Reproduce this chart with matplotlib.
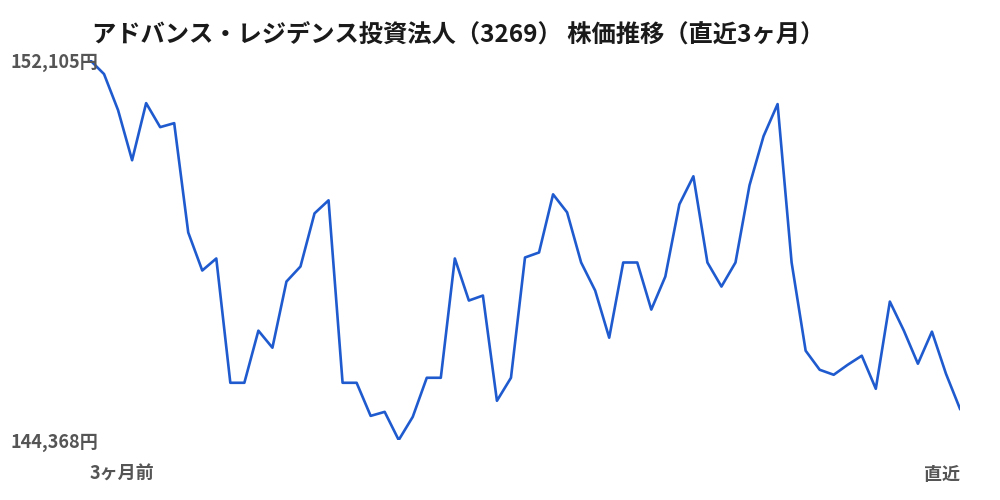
import matplotlib
matplotlib.use('Agg')
import matplotlib.pyplot as plt

plt.rcParams['font.family'] = ['Noto Sans CJK JP', 'DejaVu Sans']

title = 'アドバンス・レジデンス投資法人（3269） 株価推移（直近3ヶ月）'
start_label = '3ヶ月前'
end_label = '直近'

# 終値（円）、3ヶ月前から直近まで
prices = [152105, 151819, 151084, 150064, 151227, 150738, 150819, 148594,
          147819, 148064, 145533, 145533, 146594, 146247, 147594, 147901,
          148982, 149248, 145533, 145533, 144859, 144941, 144368, 144839,
          145635, 145635, 148064, 147207, 147309, 145166, 145635, 148084,
          148186, 149370, 149003, 147982, 147411, 146451, 147982, 147982,
          147023, 147696, 149166, 149737, 147982, 147492, 147982, 149554,
          150554, 151207, 147982, 146186, 145798, 145696, 145900, 146084,
          145411, 147186, 146594, 145921, 146574, 145717, 145002]

hi = max(prices)
lo = min(prices)

fig = plt.figure(figsize=(10, 5), dpi=100)
ax = fig.add_axes([0.09, 0.12, 0.87, 0.76])
ax.plot(range(len(prices)), prices, color='#1f5bcf', lw=1.9)
ax.set_xlim(0, len(prices) - 1)
ax.set_ylim(lo, hi)
ax.axis('off')

gray = '#555555'
fig.text(0.092, 0.928, title, fontsize=17.5, fontweight='bold', color='#1a1a1a',
         ha='left', va='center')
fig.text(0.01, 0.874, f'{hi:,}円', fontsize=13, fontweight='bold', color=gray,
         ha='left', va='center')
fig.text(0.01, 0.116, f'{lo:,}円', fontsize=13, fontweight='bold', color=gray,
         ha='left', va='center')
fig.text(0.09, 0.052, start_label, fontsize=13, fontweight='bold', color=gray,
         ha='left', va='center')
fig.text(0.96, 0.052, end_label, fontsize=13, fontweight='bold', color=gray,
         ha='right', va='center')

fig.savefig('out.png', dpi=100, facecolor='white')
